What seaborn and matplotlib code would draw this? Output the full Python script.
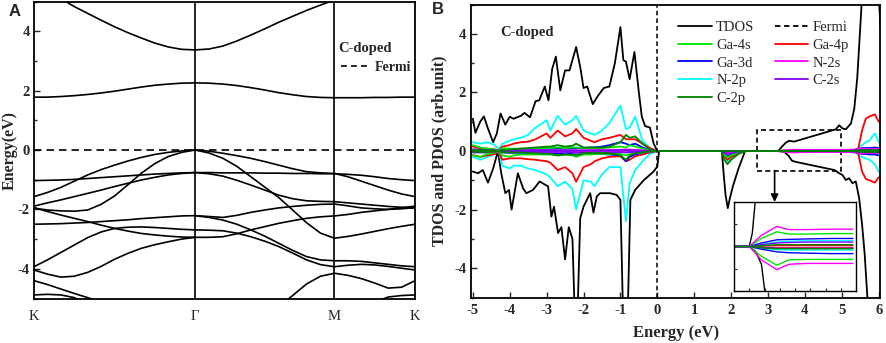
import numpy as np
import matplotlib
matplotlib.use("Agg")
import matplotlib.pyplot as plt
from matplotlib.lines import Line2D
from matplotlib.patches import Rectangle
from matplotlib.ticker import MultipleLocator
import seaborn as sns

# ---------------- panel A: band structure ----------------
k_labels = ["K", "Γ", "M", "K"]
k_nodes = [0.0, 1.3333, 2.4880, 3.1547]   # path length K-Γ-M-K

# energies (eV) sampled evenly along each segment
bands_k_gamma = [
    [5.9, 5.5, 5.1, 4.83, 4.6, 4.37, 4.15, 3.95, 3.77, 3.6, 3.47, 3.39, 3.37],
    [1.78, 1.78, 1.8, 1.83, 1.87, 1.92, 1.98, 2.05, 2.12, 2.18, 2.22, 2.25, 2.26],
    [-1.57, -1.43, -1.26, -1.05, -0.84, -0.66, -0.51, -0.37, -0.25, -0.15, -0.08, -0.03, 0.0],
    [-1.96, -2.02, -2.05, -2.06, -2.02, -1.83, -1.55, -1.17, -0.78, -0.46, -0.22, -0.08, 0.0],
    [-1.89, -1.78, -1.68, -1.57, -1.46, -1.35, -1.23, -1.12, -1.01, -0.92, -0.84, -0.79, -0.76],
    [-1.03, -1.02, -1.01, -0.99, -0.96, -0.93, -0.9, -0.87, -0.84, -0.81, -0.79, -0.77, -0.76],
    [-1.94, -2.07, -2.19, -2.3, -2.41, -2.53, -2.64, -2.73, -2.81, -2.86, -2.9, -2.93, -2.94],
    [-2.5, -2.49, -2.48, -2.46, -2.44, -2.41, -2.38, -2.35, -2.31, -2.28, -2.25, -2.22, -2.21],
    [-3.93, -3.7, -3.45, -3.2, -2.95, -2.76, -2.64, -2.6, -2.59, -2.61, -2.64, -2.67, -2.69],
    [-4.04, -4.18, -4.28, -4.25, -4.12, -3.92, -3.68, -3.48, -3.31, -3.19, -3.09, -3.0, -2.94],
    [-4.4, -4.53, -4.68, -4.83, -4.97, -5.13, -5.3, -5.45, -5.6, -5.7, -5.8, -5.85, -5.9],
    [-4.88, -4.86, -4.88, -4.97, -5.2, -5.35, -5.5, -5.6, -5.7, -5.8, -5.9, -5.95, -6.0],
]
bands_gamma_m = [
    [3.37, 3.4, 3.5, 3.67, 3.87, 4.08, 4.3, 4.5, 4.7, 4.88, 5.05],
    [2.26, 2.25, 2.22, 2.17, 2.1, 2.02, 1.93, 1.86, 1.8, 1.77, 1.76],
    [0.0, -0.04, -0.11, -0.19, -0.28, -0.39, -0.51, -0.63, -0.73, -0.77, -0.79],
    [0.0, -0.1, -0.28, -0.55, -0.9, -1.25, -1.6, -2.02, -2.45, -2.8, -2.97],
    [-0.76, -0.8, -0.88, -1.02, -1.18, -1.35, -1.52, -1.64, -1.71, -1.73, -1.74],
    [-0.76, -0.76, -0.77, -0.77, -0.77, -0.78, -0.78, -0.79, -0.79, -0.8, -0.8],
    [-2.21, -2.24, -2.27, -2.2, -2.1, -2.02, -1.95, -1.9, -1.86, -1.83, -1.82],
    [-2.21, -2.27, -2.36, -2.5, -2.69, -2.9, -3.14, -3.38, -3.59, -3.7, -3.73],
    [-2.69, -2.7, -2.72, -2.8, -2.92, -3.07, -3.25, -3.47, -3.7, -3.86, -3.93],
    [-2.94, -2.94, -2.92, -2.82, -2.69, -2.58, -2.47, -2.38, -2.3, -2.25, -2.22],
    [-6.5, -6.35, -6.2, -6.0, -5.8, -5.55, -5.27, -4.9, -4.51, -4.25, -4.15],
]
bands_m_k = [
    [5.05, 5.25, 5.4, 5.55, 5.7, 5.8, 5.9],
    [1.76, 1.76, 1.76, 1.77, 1.77, 1.78, 1.78],
    [-0.79, -0.9, -1.05, -1.2, -1.35, -1.48, -1.57],
    [-0.8, -0.82, -0.85, -0.9, -0.96, -1.0, -1.03],
    [-1.74, -1.78, -1.82, -1.86, -1.9, -1.93, -1.96],
    [-1.82, -1.88, -1.95, -1.98, -2.0, -1.98, -1.94],
    [-2.22, -2.17, -2.1, -2.05, -2.0, -1.94, -1.89],
    [-2.97, -2.91, -2.83, -2.74, -2.65, -2.57, -2.5],
    [-3.73, -3.73, -3.75, -3.8, -3.85, -3.9, -3.93],
    [-3.93, -3.88, -3.85, -3.87, -3.92, -3.98, -4.04],
    [-4.15, -4.22, -4.33, -4.48, -4.65, -4.62, -4.4],
    [-5.6, -5.45, -5.3, -5.12, -4.95, -4.9, -4.88],
]

# ---------------- panel B: TDOS / PDOS ----------------
tdos_up_energy = [-5.0, -4.93, -4.8, -4.7, -4.6, -4.45, -4.35, -4.25, -4.12, -4.0,
                  -3.9, -3.7, -3.6, -3.45, -3.3, -3.2, -3.05, -2.95, -2.85, -2.75,
                  -2.63, -2.5, -2.38, -2.2, -2.08, -2.0, -1.9, -1.75, -1.6, -1.45,
                  -1.3, -1.15, -1.0, -0.92, -0.85, -0.75, -0.62, -0.5, -0.42, -0.33,
                  -0.2, -0.1, 0.0, 3.25, 3.3, 3.38, 3.48, 3.57, 3.71, 4.84,
                  4.93, 5.02, 5.11, 5.25, 5.34, 5.42, 5.5, 5.56, 5.8, 5.95, 6.05]
tdos_up = [1.1, 0.62, 1.0, 1.18, 0.8, 0.3, 0.6, 1.28, 0.9, 1.17,
           1.1, 1.2, 1.3, 1.15, 1.7, 1.73, 2.2, 1.73, 2.8, 3.22,
           2.07, 2.75, 2.75, 3.55, 2.8, 2.15, 2.2, 1.6, 1.9, 2.15,
           2.2, 3.0, 4.23, 3.1, 3.05, 2.45, 3.38, 2.0, 1.17, 0.85,
           0.8, 0.26, 0.0, 0.0, 0.03, 0.15, 0.28, 0.35, 0.32, 0.74,
           0.88, 0.77, 0.74, 0.94, 1.45, 2.5, 4.2, 5.5, 8.0, 6.5, 4.2]

tdos_dn_energy = [-5.0, -4.86, -4.73, -4.59, -4.45, -4.32, -4.23, -4.12, -4.02, -3.95,
                  -3.78, -3.64, -3.55, -3.37, -3.19, -2.96, -2.87, -2.8, -2.69, -2.6,
                  -2.5, -2.4, -2.3, -2.24, -2.16, -2.09, -2.0, -1.82, -1.73, -1.64,
                  -1.55, -1.28, -1.1, -1.0, -0.93, -0.8, -0.73, -0.6, -0.37, -0.1,
                  0.0, 0.05, 1.75, 1.8, 1.85, 1.91, 1.97, 2.05, 2.2, 2.38,
                  3.25, 3.35, 3.45, 3.55, 3.65, 3.75, 4.8, 4.93, 5.02, 5.11,
                  5.2, 5.29, 5.38, 5.47, 5.55, 5.62, 5.72]
tdos_dn = [-0.7, -0.76, -0.65, -1.08, -0.6, 0.0, -0.76, -1.44, -1.33, -2.0,
           -0.76, -1.27, -1.44, -1.33, -1.04, -1.21, -2.24, -1.9, -2.8, -2.6,
           -3.7, -2.6, -3.0, -5.5, -5.5, -2.3, -1.9, -1.44, -2.1, -1.55,
           -1.44, -1.44, -1.5, -1.67, -5.5, -5.5, -1.67, -1.33, -1.0, -0.7,
           -0.53, 0.0, 0.0, -0.8, -1.5, -1.95, -1.6, -1.2, -0.6, 0.0,
           0.0, -0.01, -0.04, -0.15, -0.33, -0.37, -0.65, -0.76, -0.82, -0.99,
           -0.93, -1.1, -1.04, -1.6, -2.5, -3.5, -5.5]

pdos_energy = [-5.0, -4.8, -4.6, -4.4, -4.3, -4.2, -4.0, -3.9, -3.7, -3.5,
               -3.3, -3.0, -2.9, -2.7, -2.5, -2.3, -2.2, -2.0, -1.8, -1.7,
               -1.5, -1.3, -1.0, -0.85, -0.75, -0.6, -0.4, -0.2, 0.0,
               1.75, 1.8, 1.9, 2.0, 2.2, 2.4,
               3.0, 3.25, 3.45, 3.7, 3.9, 4.2, 4.6, 4.95, 5.2, 5.35,
               5.45, 5.55, 5.65, 5.75, 5.9, 6.0]

ga4s_up = [0.2, 0.12, 0.08, 0.05, 0.0, 0.1, 0.08, 0.08, 0.08, 0.09,
           0.1, 0.1, 0.1, 0.12, 0.1, 0.12, 0.12, 0.1, 0.1, 0.1,
           0.1, 0.12, 0.15, 0.12, 0.2, 0.15, 0.08, 0.02, 0.0,
           0, 0, 0, 0, 0, 0,
           0, 0, 0.018, 0.033, 0.028, 0.028, 0.029, 0.029, 0.03, 0.04,
           0.05, 0.06, 0.05, 0.05, 0.05, 0.05]
ga4s_dn = [-0.15, -0.2, -0.1, -0.05, 0.0, -0.15, -0.2, -0.15, -0.12, -0.12,
           -0.12, -0.12, -0.12, -0.15, -0.12, -0.15, -0.2, -0.12, -0.12, -0.1,
           -0.1, -0.1, -0.1, -0.15, -0.1, -0.08, -0.05, -0.02, 0.0,
           0, -0.1, -0.22, -0.15, -0.05, 0,
           0, 0, -0.022, -0.042, -0.03, -0.029, -0.029, -0.029, -0.03, -0.04,
           -0.05, -0.06, -0.05, -0.05, -0.05, -0.05]
ga4p_up = [0.15, 0.1, 0.08, 0.05, 0.02, 0.15, 0.2, 0.25, 0.3, 0.32,
           0.4, 0.6, 0.45, 0.7, 0.5, 0.6, 0.75, 0.45, 0.35, 0.3,
           0.4, 0.45, 0.55, 0.4, 0.4, 0.4, 0.25, 0.1, 0.0,
           0, 0, 0, 0, 0, 0,
           0, 0, 0.001, 0.002, 0.002, 0.002, 0.002, 0.002, 0.005, 0.02,
           0.1, 0.7, 1.1, 1.18, 1.25, 1.0]
ga4p_dn = [-0.14, -0.2, -0.15, -0.1, 0.0, -0.3, -0.25, -0.25, -0.25, -0.28,
           -0.3, -0.35, -0.4, -0.65, -0.55, -0.76, -1.05, -0.55, -0.45, -0.35,
           -0.25, -0.2, -0.18, -0.35, -0.3, -0.18, -0.12, -0.05, 0.0,
           0, -0.15, -0.3, -0.2, -0.07, 0,
           0, 0, -0.002, -0.003, -0.003, -0.003, -0.003, -0.003, -0.005, -0.02,
           -0.1, -0.7, -0.95, -1.0, -1.08, -0.9]
ga3d_up = [0.05, 0.05, 0.05, 0.03, 0.0, 0.04, 0.05, 0.05, 0.05, 0.06,
           0.06, 0.07, 0.07, 0.08, 0.08, 0.09, 0.1, 0.1, 0.12, 0.12,
           0.15, 0.2, 0.3, 0.25, 0.2, 0.25, 0.12, 0.03, 0.0,
           0, 0, 0, 0, 0, 0,
           0, 0, 0.008, 0.015, 0.016, 0.017, 0.018, 0.018, 0.02, 0.03,
           0.06, 0.1, 0.1, 0.1, 0.12, 0.1]
ga3d_dn = [-0.05, -0.05, -0.05, -0.03, 0.0, -0.05, -0.06, -0.06, -0.06, -0.07,
           -0.07, -0.08, -0.08, -0.09, -0.09, -0.1, -0.12, -0.1, -0.1, -0.1,
           -0.1, -0.12, -0.15, -0.35, -0.2, -0.12, -0.06, -0.02, 0.0,
           0, -0.08, -0.18, -0.12, -0.04, 0,
           0, 0, -0.006, -0.012, -0.014, -0.015, -0.016, -0.016, -0.02, -0.03,
           -0.06, -0.1, -0.1, -0.12, -0.12, -0.15]
n2s_up = [0.05, 0.04, 0.03, 0.02, 0.0, 0.02, 0.02, 0.02, 0.02, 0.02,
          0.02, 0.02, 0.02, 0.02, 0.02, 0.02, 0.02, 0.02, 0.03, 0.03,
          0.03, 0.04, 0.04, 0.05, 0.05, 0.04, 0.02, 0.01, 0.0,
          0, 0, 0, 0, 0, 0,
          0, 0, 0.025, 0.045, 0.038, 0.038, 0.039, 0.039, 0.04, 0.05,
          0.08, 0.08, 0.07, 0.07, 0.07, 0.06]
n2s_dn = [-0.04, -0.04, -0.03, -0.02, 0.0, -0.02, -0.02, -0.02, -0.02, -0.02,
          -0.02, -0.02, -0.02, -0.02, -0.02, -0.02, -0.03, -0.02, -0.02, -0.02,
          -0.03, -0.03, -0.03, -0.04, -0.03, -0.03, -0.02, -0.01, 0.0,
          0, -0.02, -0.04, -0.03, -0.01, 0,
          0, 0, -0.03, -0.052, -0.04, -0.038, -0.038, -0.038, -0.04, -0.05,
          -0.07, -0.08, -0.07, -0.07, -0.07, -0.06]
n2p_up = [0.3, 0.25, 0.3, 0.2, 0.05, 0.25, 0.35, 0.4, 0.45, 0.55,
          0.8, 1.05, 0.7, 1.2, 0.9, 1.05, 1.2, 0.7, 0.6, 0.55,
          0.7, 0.95, 1.55, 0.75, 0.8, 1.17, 0.35, 0.1, 0.0,
          0, 0, 0, 0, 0, 0,
          0, 0, 0.005, 0.01, 0.012, 0.013, 0.013, 0.013, 0.02, 0.03,
          0.1, 0.2, 0.3, 0.35, 0.6, 0.3]
n2p_dn = [-0.2, -0.3, -0.2, -0.1, 0.0, -0.5, -0.6, -0.5, -0.5, -0.6,
          -0.65, -0.8, -0.9, -1.2, -1.05, -1.3, -2.0, -1.0, -1.05, -1.2,
          -0.8, -0.55, -0.55, -2.4, -1.1, -0.65, -0.35, -0.1, 0.0,
          0, -0.15, -0.35, -0.22, -0.08, 0,
          0, 0, -0.004, -0.007, -0.008, -0.008, -0.008, -0.008, -0.01, -0.03,
          -0.12, -0.2, -0.25, -0.3, -0.45, -0.7]
c2s_up = [0.02, 0.02, 0.02, 0.01, 0.0, 0.01, 0.01, 0.01, 0.01, 0.01,
          0.01, 0.01, 0.01, 0.02, 0.02, 0.02, 0.02, 0.02, 0.02, 0.02,
          0.02, 0.02, 0.03, 0.03, 0.03, 0.02, 0.01, 0.0, 0.0,
          0, 0, 0, 0, 0, 0,
          0, 0, 0.004, 0.008, 0.009, 0.01, 0.01, 0.01, 0.01, 0.02,
          0.03, 0.04, 0.04, 0.04, 0.04, 0.04]
c2s_dn = [-0.02, -0.02, -0.02, -0.01, 0.0, -0.02, -0.02, -0.02, -0.02, -0.02,
          -0.02, -0.03, -0.03, -0.03, -0.03, -0.04, -0.05, -0.05, -0.05, -0.05,
          -0.05, -0.04, -0.04, -0.05, -0.04, -0.03, -0.02, -0.01, 0.0,
          0, -0.05, -0.1, -0.07, -0.02, 0,
          0, 0, -0.002, -0.004, -0.004, -0.004, -0.004, -0.004, -0.01, -0.02,
          -0.03, -0.04, -0.05, -0.05, -0.05, -0.05]
c2p_up = [0.03, 0.03, 0.03, 0.02, 0.0, 0.03, 0.05, 0.06, 0.08, 0.1,
          0.12, 0.15, 0.15, 0.2, 0.15, 0.18, 0.25, 0.12, 0.12, 0.12,
          0.12, 0.15, 0.3, 0.55, 0.45, 0.5, 0.25, 0.05, 0.0,
          0, 0, 0, 0, 0, 0,
          0, 0, 0.002, 0.004, 0.004, 0.004, 0.004, 0.004, 0.005, 0.01,
          0.02, 0.03, 0.03, 0.03, 0.03, 0.03]
c2p_dn = [-0.03, -0.03, -0.03, -0.02, 0.0, -0.04, -0.05, -0.05, -0.05, -0.06,
          -0.08, -0.1, -0.1, -0.15, -0.12, -0.12, -0.15, -0.08, -0.06, -0.06,
          -0.06, -0.08, -0.15, -0.3, -0.15, -0.08, -0.04, -0.01, 0.0,
          0, -0.25, -0.45, -0.3, -0.1, 0,
          0, 0, -0.003, -0.005, -0.005, -0.005, -0.005, -0.005, -0.005, -0.01,
          -0.02, -0.03, -0.03, -0.03, -0.03, -0.03]

# label, spin up, spin down, colour (drawing order)
pdos_series = [
    ("N-2p", n2p_up, n2p_dn, "#00ffff"),
    ("Ga-4p", ga4p_up, ga4p_dn, "#ff0000"),
    ("Ga-3d", ga3d_up, ga3d_dn, "#0000ff"),
    ("Ga-4s", ga4s_up, ga4s_dn, "#00e600"),
    ("N-2s", n2s_up, n2s_dn, "#ff00ff"),
    ("C-2s", c2s_up, c2s_dn, "#7f00ff"),
    ("C-2p", c2p_up, c2p_dn, "#008000"),
]
legend_order = ["TDOS", "Ga-4s", "Ga-3d", "N-2p", "C-2p",
                "Fermi", "Ga-4p", "N-2s", "C-2s"]

# ---------------- style ----------------
sns.set_style("ticks")
plt.rcParams["font.family"] = "serif"
plt.rcParams["font.serif"] = ["Liberation Serif", "DejaVu Serif"]
plt.rcParams["axes.unicode_minus"] = False
plt.rcParams["axes.linewidth"] = 1.3
plt.rcParams["xtick.direction"] = "in"
plt.rcParams["ytick.direction"] = "in"
plt.rcParams["axes.edgecolor"] = "black"

W, H = 886, 343
fig = plt.figure(figsize=(W / 100, H / 100), dpi=100)
axA = fig.add_axes([34 / W, 44.5 / H, 381 / W, 297 / H])
axB = fig.add_axes([471 / W, 45.5 / H, 409.5 / W, 293 / H])
axI = fig.add_axes([734 / W, 52 / H, 122 / W, 89 / H])


def line(ax, x, y, **kw):
    sns.lineplot(x=np.asarray(x, float), y=np.asarray(y, float), ax=ax,
                 estimator=None, sort=False, legend=False, **kw)


# ---- panel A ----
for seg, bands in enumerate([bands_k_gamma, bands_gamma_m, bands_m_k]):
    for e in bands:
        k = np.linspace(k_nodes[seg], k_nodes[seg + 1], len(e))
        line(axA, k, e, color="black", linewidth=1.2)
for kx in k_nodes[1:3]:
    axA.axvline(kx, color="black", lw=1.2)
axA.axhline(0, color="black", lw=1.2, ls=(0, (4.5, 3)))
axA.set_xlim(k_nodes[0], k_nodes[-1])
axA.set_ylim(-5, 5)
axA.set_xticks(k_nodes)
axA.set_xticklabels(k_labels, fontsize=10.5)
axA.tick_params(axis="x", length=0, pad=8)
axA.yaxis.set_major_locator(MultipleLocator(2))
axA.yaxis.set_minor_locator(MultipleLocator(1))
axA.tick_params(axis="y", which="major", length=4, width=1, labelsize=10.5, pad=3)
axA.tick_params(axis="y", which="minor", length=2.5, width=1)
for t in axA.get_yticklabels():
    t.set_fontweight("bold")
axA.set_xlabel("")
axA.set_ylabel("Energy(eV)", fontsize=11.5, fontweight="bold")
axA.yaxis.set_label_coords(-0.042, 0.5)
axA.text(0.869, 0.843, "C-doped", transform=axA.transAxes, ha="center",
         va="center", fontsize=10.5, fontweight="bold")
axA.legend(handles=[Line2D([], [], color="black", lw=1.2, ls=(0, (3.5, 2.5)))],
           labels=["Fermi"], frameon=False, loc="center left",
           bbox_to_anchor=(0.772, 0.779), handlelength=2.2, handletextpad=0.25,
           borderpad=0.4, prop={"weight": "bold", "size": 10})

# ---- panel B ----
line(axB, tdos_up_energy, tdos_up, color="black", linewidth=1.3)
line(axB, tdos_dn_energy, tdos_dn, color="black", linewidth=1.3)
for name, up, dn, col in pdos_series:
    line(axB, pdos_energy, up, color=col, linewidth=1.3)
    line(axB, pdos_energy, dn, color=col, linewidth=1.3)
axB.axvline(0, color="black", lw=1.1, ls=(0, (3, 2)))
axB.set_xlim(-5.05, 6.05)
axB.set_ylim(-5, 5)
axB.xaxis.set_major_locator(MultipleLocator(1))
axB.yaxis.set_major_locator(MultipleLocator(2))
axB.yaxis.set_minor_locator(MultipleLocator(1))
axB.tick_params(axis="both", which="major", length=4, width=1, labelsize=10.5)
axB.tick_params(axis="x", pad=5)
axB.tick_params(axis="y", which="minor", length=2.5, width=1)
for t in axB.get_xticklabels() + axB.get_yticklabels():
    t.set_fontweight("bold")
axB.set_xlabel("Energy (eV)", fontsize=12, fontweight="bold")
axB.xaxis.set_label_coords(0.5, -0.095)
axB.set_ylabel("TDOS and PDOS (arb.unit)", fontsize=11.5, fontweight="bold")
axB.yaxis.set_label_coords(-0.058, 0.5)
axB.text(-3.52, 4.03, "C-doped", ha="center", va="center",
         fontsize=10.5, fontweight="bold")

colors = {name: col for name, _, _, col in pdos_series}
handles = []
for name in legend_order:
    if name == "TDOS":
        handles.append(Line2D([], [], color="black", lw=1.3))
    elif name == "Fermi":
        handles.append(Line2D([], [], color="black", lw=1.3, ls=(0, (3, 2))))
    else:
        handles.append(Line2D([], [], color=colors[name], lw=1.3))
axB.legend(handles, legend_order, ncol=2, frameon=False, loc="upper left",
           bbox_to_anchor=(0.474, 0.99), fontsize=10.5, handlelength=2.3,
           handletextpad=0.3, columnspacing=1.4, labelspacing=0.32,
           borderpad=0.4)

# zoom box and arrow
axB.add_patch(Rectangle((2.71, -0.67), 2.26, 1.39, fill=False, ec="black",
                        lw=1.2, ls=(0, (3, 2))))
axB.annotate("", xy=(3.18, -1.74), xytext=(3.18, -0.67),
             arrowprops=dict(arrowstyle="-|>", color="black", lw=1.2,
                             mutation_scale=11, shrinkA=0, shrinkB=0))

# ---- inset ----
pe = np.asarray(pdos_energy)
keep = pe <= 4.95
line(axI, tdos_up_energy, tdos_up, color="black", linewidth=1.0)
line(axI, tdos_dn_energy, tdos_dn, color="black", linewidth=1.0)
for name, up, dn, col in pdos_series:
    line(axI, pe[keep], np.asarray(up)[keep], color=col, linewidth=1.0)
    line(axI, pe[keep], np.asarray(dn)[keep], color=col, linewidth=1.0)
axI.set_xlim(3.0, 5.0)
axI.set_ylim(-0.1, 0.1)
axI.xaxis.set_major_locator(MultipleLocator(0.25))
axI.yaxis.set_major_locator(MultipleLocator(0.05))
axI.tick_params(axis="both", length=2.5, width=0.8, labelbottom=False,
                labelleft=False)
for s in axI.spines.values():
    s.set_linewidth(1.0)
axI.set_xlabel("")
axI.set_ylabel("")

fig.text(14.5 / W, 1 - 12 / H, "A", family="Liberation Sans", fontsize=12,
         fontweight="bold", ha="center", va="center")
fig.text(437.5 / W, 1 - 10 / H, "B", family="Liberation Sans", fontsize=12,
         fontweight="bold", ha="center", va="center")

fig.savefig("out.png", dpi=100)
